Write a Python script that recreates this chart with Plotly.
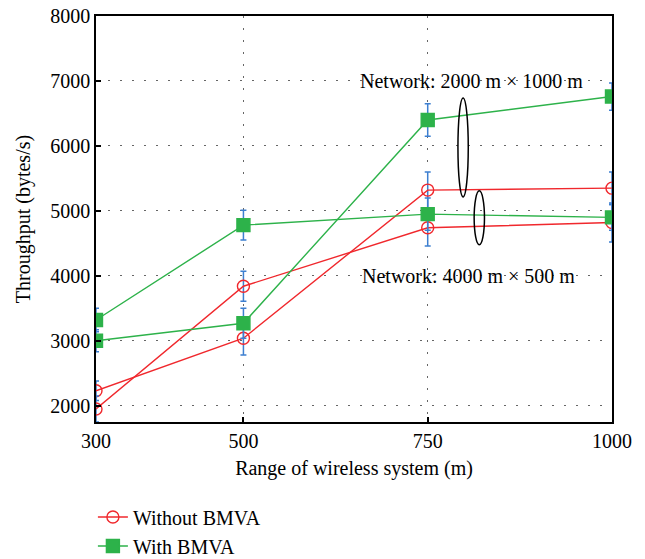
import plotly.graph_objects as go

x_range = [300, 500, 750, 1000]

# Without BMVA
red_big = [2230, 3040, 5320, 5350]      # 2000 m x 1000 m
red_big_err = [150, 260, 280, 250]
red_long = [1950, 3840, 4740, 4820]     # 4000 m x 500 m
red_long_err = [200, 230, 280, 300]

# With BMVA
green_big = [3000, 3270, 6400, 6760]
green_big_err = [170, 230, 250, 210]
green_long = [3320, 4780, 4950, 4900]
green_long_err = [180, 230, 250, 200]

y_ticks = [2000, 3000, 4000, 5000, 6000, 7000, 8000]

RED = "#f0282d"
GREEN = "#2db24a"
BLUE = "#3d7fd0"
FONT = "Liberation Serif"
FS = 20

fig = go.Figure()

def add(y, err, color, sym, name, show):
    fig.add_trace(go.Scatter(
        x=x_range, y=y, mode="lines+markers", name=name, showlegend=show,
        line=dict(color=color, width=1.4),
        marker=dict(symbol=sym, size=13 if "square" in sym else 12, color=color,
                    line=dict(color=color, width=1.4)),
        error_y=dict(type="data", array=err, visible=True, color=BLUE,
                     thickness=1.5, width=3),
    ))

add(red_big, red_big_err, RED, "circle-open", "Without BMVA", True)
add(red_long, red_long_err, RED, "circle-open", "Without BMVA", False)
add(green_big, green_big_err, GREEN, "square", "With BMVA", True)
add(green_long, green_long_err, GREEN, "square", "With BMVA", False)

fig.add_annotation(x=810, y=7000, text="Network: 2000 m × 1000 m", showarrow=False,
                   font=dict(family=FONT, size=FS, color="black"))
fig.add_annotation(x=806, y=4000, text="Network: 4000 m × 500 m", showarrow=False,
                   font=dict(family=FONT, size=FS, color="black"))

fig.add_shape(type="circle", xref="x", yref="y", x0=791, x1=805, y0=5215, y1=6738,
              line=dict(color="black", width=1.5))
fig.add_shape(type="circle", xref="x", yref="y", x0=813, x1=827, y0=4477, y1=5308,
              line=dict(color="black", width=1.5))

axis_common = dict(
    showline=True, linecolor="black", linewidth=1.5, mirror=True,
    ticks="inside", ticklen=5, tickcolor="black", tickwidth=1.5,
    showgrid=True, gridcolor="#666666", gridwidth=1, griddash="2px,10px",
    zeroline=False, tickfont=dict(family=FONT, size=FS, color="black"),
)

fig.update_xaxes(range=[300, 1000], tickvals=x_range,
                 title=dict(text="Range of wireless system (m)",
                            font=dict(family=FONT, size=FS, color="black"), standoff=10),
                 **axis_common)
fig.update_yaxes(range=[1750, 8000], tickvals=y_ticks,
                 title=dict(text="Throughput (bytes/s)",
                            font=dict(family=FONT, size=FS, color="black"), standoff=14),
                 **axis_common)

fig.update_layout(
    width=645, height=559,
    margin=dict(l=96, r=33, t=16, b=137, autoexpand=False),
    paper_bgcolor="white", plot_bgcolor="white",
    font=dict(family=FONT, size=FS, color="black"),
    legend=dict(x=-0.006, y=-0.186, xanchor="left", yanchor="top",
                font=dict(family=FONT, size=FS, color="black"),
                bgcolor="rgba(0,0,0,0)", tracegroupgap=0),
)

fig.write_html("out.html")
